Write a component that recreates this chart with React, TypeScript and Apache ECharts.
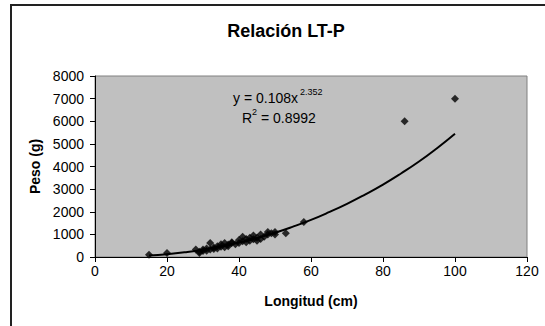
import React, { useEffect, useRef } from "react";
import * as echarts from "echarts";

const titleText = "Relación LT-P";
const xAxisTitle = "Longitud (cm)";
const yAxisTitle = "Peso (g)";

const lengths = [15, 20, 28, 29, 29, 30, 30, 31, 31, 32, 32, 33, 33, 34, 34, 35, 35, 36, 36, 37, 37, 38, 38, 39, 40, 40, 41, 41, 42, 42, 43, 43, 44, 44, 45, 45, 46, 46, 47, 48, 48, 49, 50, 50, 53, 58, 86, 100];
const weights = [100, 180, 330, 230, 180, 260, 330, 280, 380, 330, 620, 350, 420, 380, 480, 450, 560, 430, 620, 480, 550, 620, 650, 560, 620, 750, 700, 900, 650, 800, 720, 850, 780, 950, 720, 850, 800, 1000, 900, 1000, 1100, 1050, 1000, 1100, 1050, 1550, 6000, 7000];

// trend line values
const trendX = [15, 20, 25, 30, 35, 40, 45, 50, 55, 60, 65, 70, 75, 80, 85, 90, 95, 100];
const trendY = [63, 124, 210, 320, 460, 635, 840, 1070, 1340, 1640, 1980, 2350, 2760, 3200, 3690, 4220, 4810, 5450];

const eqMain = "y = 0.108x";
const eqExp = "2.352";
const r2Main = "R";
const r2Exp = "2";
const r2Rest = " = 0.8992";

const FONT = "'Liberation Sans', Arial, sans-serif";

export default function App() {
  const ref = useRef<HTMLDivElement>(null);
  useEffect(() => {
    if (!ref.current) return;
    const chart = echarts.init(ref.current, null, { renderer: "svg" });
    const scatterData = lengths.map((x, i) => [x, weights[i]]);
    const trendData = trendX.map((x, i) => [x, trendY[i]]);
    chart.setOption({
      animation: false,
      backgroundColor: "#ffffff",
      grid: {
        left: 95,
        right: 18,
        top: 76,
        bottom: 69,
        show: true,
        backgroundColor: "#c0c0c0",
        borderColor: "#808080",
        borderWidth: 1,
      },
      xAxis: {
        type: "value",
        min: 0,
        max: 120,
        interval: 20,
        name: xAxisTitle,
        nameLocation: "middle",
        nameGap: 37,
        nameTextStyle: { fontFamily: FONT, fontSize: 14, fontWeight: "bold", color: "#000" },
        axisLine: { show: true, onZero: false, lineStyle: { color: "#000", width: 1 } },
        axisTick: { show: true, inside: false, length: 5, lineStyle: { color: "#000" } },
        axisLabel: { fontFamily: FONT, fontSize: 14, color: "#000", margin: 7, formatter: (v: number) => String(v) },
        splitLine: { show: false },
      },
      yAxis: {
        type: "value",
        min: 0,
        max: 8000,
        interval: 1000,
        name: yAxisTitle,
        nameLocation: "middle",
        nameGap: 51,
        nameTextStyle: { fontFamily: FONT, fontSize: 14, fontWeight: "bold", color: "#000" },
        axisLine: { show: true, onZero: false, lineStyle: { color: "#000", width: 1 } },
        axisTick: { show: true, inside: false, length: 5, lineStyle: { color: "#000" } },
        axisLabel: { fontFamily: FONT, fontSize: 14, color: "#000", margin: 11, formatter: (v: number) => String(v) },
        splitLine: { show: false },
      },
      series: [
        {
          type: "scatter",
          data: scatterData,
          symbol: "diamond",
          symbolSize: 8,
          itemStyle: { color: "#000" },
          z: 3,
        },
        {
          type: "line",
          data: trendData,
          smooth: true,
          showSymbol: false,
          symbol: "none",
          lineStyle: { color: "#000", width: 2 },
          z: 2,
        },
      ],
      graphic: [
        {
          type: "rect",
          shape: { x: 11, y: 5, width: 700, height: 500 },
          style: { fill: "none", stroke: "#222", lineWidth: 2 },
          silent: true,
          z: 100,
        },
        {
          type: "text",
          x: 286,
          y: 31,
          style: {
            text: titleText,
            fontFamily: FONT,
            fontSize: 18,
            fontWeight: "bold",
            fill: "#000",
            align: "center",
            verticalAlign: "middle",
          },
          z: 100,
        },
        {
          type: "text",
          x: 233,
          y: 98,
          style: { text: eqMain, fontFamily: FONT, fontSize: 14, fill: "#000", align: "left", verticalAlign: "middle" },
          z: 100,
        },
        {
          type: "text",
          x: 300,
          y: 92,
          style: { text: eqExp, fontFamily: FONT, fontSize: 9, fill: "#000", align: "left", verticalAlign: "middle" },
          z: 100,
        },
        {
          type: "text",
          x: 242,
          y: 118,
          style: { text: r2Main, fontFamily: FONT, fontSize: 14, fill: "#000", align: "left", verticalAlign: "middle" },
          z: 100,
        },
        {
          type: "text",
          x: 252,
          y: 112,
          style: { text: r2Exp, fontFamily: FONT, fontSize: 9, fill: "#000", align: "left", verticalAlign: "middle" },
          z: 100,
        },
        {
          type: "text",
          x: 257,
          y: 118,
          style: { text: r2Rest, fontFamily: FONT, fontSize: 14, fill: "#000", align: "left", verticalAlign: "middle" },
          z: 100,
        },
      ],
    });
    return () => chart.dispose();
  }, []);
  return (
    <div
      ref={ref}
      style={{ position: "absolute", left: 0, top: 0, width: 545, height: 326 }}
    />
  );
}
